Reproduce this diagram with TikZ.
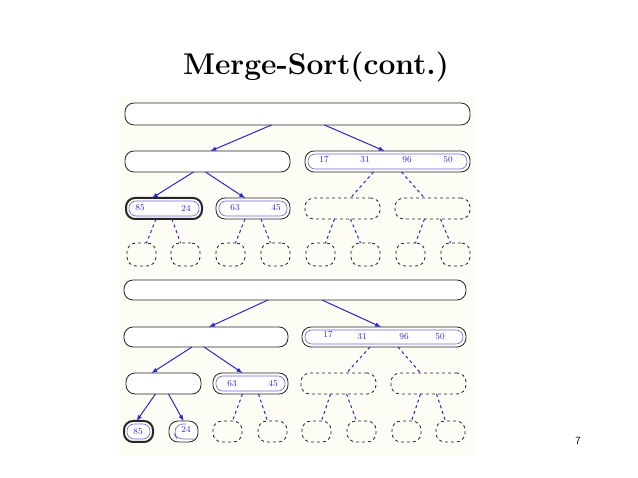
\documentclass[tikz,border=0pt]{standalone}
\usetikzlibrary{calc}
\definecolor{cream}{RGB}{253,253,246}
\definecolor{nblue}{RGB}{40,40,200}
\tikzset{
 bx/.style={draw=black!85,line width=0.8pt,rounded corners=9pt,inner sep=0pt,outer sep=0pt,fill=white},
 dbx/.style={draw=black!85,line width=0.8pt,dashed,rounded corners=9pt,inner sep=0pt,outer sep=0pt},
 thk/.style={bx,line width=2pt},
 inr/.style={draw=nblue!70,line width=0.6pt,rounded corners=7pt,inner sep=0pt},
 num/.style={text=nblue,font=\fontsize{9}{10}\selectfont,inner sep=0pt},
 arr/.style={draw=nblue,line width=1pt,-latex},
 dsh/.style={draw=nblue,line width=1pt,dashed},
}
\newcommand{\bxx}[6]{\node[#6,minimum width={(#4-#2)*1pt},minimum height={(#5-#3)*1pt}] (#1) at ({(#2+#4)/2},{(#3+#5)/2}) {};}
\newcommand{\inb}[5]{\node[inr,minimum width={(#4-#2-6)*1pt},minimum height={(#5-#3-6)*1pt}] (#1) at ({(#2+#4)/2},{(#3+#5)/2}) {};}
\begin{document}
\begin{tikzpicture}[x=1pt,y=-1pt]
\useasboundingbox (0,0) rectangle (638,478);
\fill[white] (0,0) rectangle (638,478);
\fill[cream] (119,97) rectangle (476,456);
\node[font=\bfseries\fontsize{30}{32}\selectfont] (title) at (316,67) {Merge-Sort(cont.)};
\node[font=\sffamily\fontsize{11}{12}\selectfont] (pg) at (578,441) {7};
% ---------- top panel
\bxx{a0}{125}{103}{470}{125}{bx}
\bxx{a1}{125}{151}{290}{172}{bx}
\bxx{a2}{305}{151}{470}{172}{bx}\inb{a2i}{305}{151}{470}{172}
\bxx{a3}{126}{198}{202}{219}{thk}\inb{a3i}{126}{198}{202}{219}
\bxx{a4}{216}{198}{290}{219}{bx}\inb{a4i}{216}{198}{290}{219}
\bxx{a5}{305}{198}{380}{219}{dbx}
\bxx{a6}{395}{198}{470}{219}{dbx}
\foreach \n/\x in {1/127,2/171,3/216,4/261,5/306,6/351,7/396,8/441}
  {\bxx{at\n}{\x}{243}{\x+29}{266}{dbx}}
\node[num] (n17a) at (324,160) {17};
\node[num] (n31a) at (365,160) {31};
\node[num] (n96a) at (407,160) {96};
\node[num] (n50a) at (448,160) {50};
\node[num] (n85a) at (140,208) {85};
\node[num] (n24a) at (186,208) {24};
\node[num] (n63a) at (235,208) {63};
\node[num] (n45a) at (276,208) {45};
\draw[arr] ($(a0.south)+(-26,0)$) -- ($(a1.north)+(3,0)$);
\draw[arr] ($(a0.south)+(27,0)$) -- ($(a2.north)+(-3,0)$);
\draw[arr] ($(a1.south)+(-14,0)$) -- ($(a3.north)+(-12,0)$);
\draw[arr] ($(a1.south)+(-2,0)$) -- ($(a4.north)+(-8,0)$);
\draw[dsh] ($(a2.south)+(-14,0)$) -- ($(a5.north)+(8,0)$);
\draw[dsh] ($(a2.south)+(14,0)$) -- ($(a6.north)+(-8,0)$);
\foreach \p/\l/\r in {3/1/2,4/3/4,5/5/6,6/7/8}{
  \draw[dsh] ($(a\p.south)+(-8,0)$) -- ($(at\l.north)+(5,0)$);
  \draw[dsh] ($(a\p.south)+(8,0)$) -- ($(at\r.north)+(-5,0)$);}
% ---------- bottom panel
\bxx{b0}{124}{280}{466}{300}{bx}
\bxx{b1}{124}{327}{288}{347}{bx}
\bxx{b2}{302}{327}{466}{347}{bx}\inb{b2i}{302}{327}{466}{347}
\bxx{b3}{126}{373}{201}{394}{bx}
\bxx{b4}{213}{373}{288}{394}{bx}\inb{b4i}{213}{373}{288}{394}
\bxx{b5}{301}{373}{376}{394}{dbx}
\bxx{b6}{391}{373}{466}{394}{dbx}
\bxx{bt1}{124}{421}{153}{442}{thk}\inb{bt1i}{124}{421}{153}{442}
\bxx{bt2}{169}{421}{198}{442}{bx}
\draw[nblue!70,line width=0.6pt,rounded corners=6pt] (186,424) -- (177,424) -- (174,434) -- (177,439) -- (195,439);
\foreach \n/\x in {3/213,4/258,5/302,6/347,7/392,8/436}
  {\bxx{bt\n}{\x}{421}{\x+29}{442}{dbx}}
\node[num] (n17b) at (328,335) {17};
\node[num] (n31b) at (362,337) {31};
\node[num] (n96b) at (404,337) {96};
\node[num] (n50b) at (440,337) {50};
\node[num] (n63b) at (232,384) {63};
\node[num] (n45b) at (273,384) {45};
\node[num] (n85b) at (138,432) {85};
\node[num] (n24b) at (186,429) {24};
\draw[arr] ($(b0.south)+(-27,0)$) -- ($(b1.north)+(3,0)$);
\draw[arr] ($(b0.south)+(27,0)$) -- ($(b2.north)+(-3,0)$);
\draw[arr] ($(b1.south)+(-14,0)$) -- ($(b3.north)+(-12,0)$);
\draw[arr] ($(b1.south)+(-2,0)$) -- ($(b4.north)+(-8,0)$);
\draw[arr] ($(b3.south)+(-8,0)$) -- ($(bt1.north)+(-2,0)$);
\draw[arr] ($(b3.south)+(5,0)$) -- ($(bt2.north)+(0,0)$);
\draw[dsh] ($(b2.south)+(-14,0)$) -- ($(b5.north)+(8,0)$);
\draw[dsh] ($(b2.south)+(14,0)$) -- ($(b6.north)+(-8,0)$);
\foreach \p/\l/\r in {4/3/4,5/5/6,6/7/8}{
  \draw[dsh] ($(b\p.south)+(-8,0)$) -- ($(bt\l.north)+(5,0)$);
  \draw[dsh] ($(b\p.south)+(8,0)$) -- ($(bt\r.north)+(-5,0)$);}
\end{tikzpicture}
\end{document}
